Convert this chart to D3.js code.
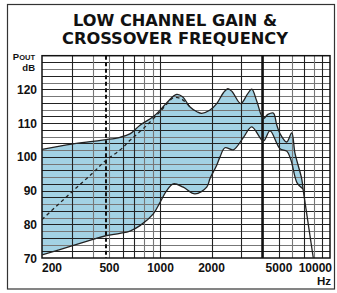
<!DOCTYPE html>
<html><head><meta charset="utf-8">
<script src="https://cdn.jsdelivr.net/npm/d3@7"></script>
<style>
html,body{margin:0;padding:0;background:#fff;}
svg{display:block;}
.lab{font-family:"Liberation Sans Narrow","Liberation Sans",Arial,sans-serif;font-weight:bold;fill:#111;}
.title{font-family:"Liberation Sans Narrow","DejaVu Sans Condensed",sans-serif;font-weight:bold;fill:#111;}
</style></head>
<body>
<script>
// ---- data ----
const titleLines = ["LOW CHANNEL GAIN &", "CROSSOVER FREQUENCY"];
const xTickValues = [200, 500, 1000, 2000, 5000, 10000];
const xTickLabels = ["200", "500", "1000", "2000", "5000", "10000"];
const yTickValues = [70, 80, 90, 100, 110, 120];
const xGridValues = [300,400,500,600,700,800,900,1000,2000,3000,5000,6000,7000,8000,9000];
const xGridMinor = [400,500,800,900,6000,8000];
const upperFreq = [200,300,400,477,577,660,757,900,994,1100,1246,1350,1494,1650,1751,1950,2146,2350,2500,2650,2974,3250,3454,3700,4043,4300,4629,4850,5071,5555,5946,6218,6811,6932];
const upperDb   = [102.2,103.8,104.6,105.1,105.8,106.8,109.4,111.8,113.8,116.3,118.5,117.8,114.8,113.3,112.9,113.8,115.8,119.0,120.2,119.3,115.8,118.5,120.1,116.5,111.4,112.6,113.0,109.5,106.9,104.4,107.1,101.0,93.5,90.5];
const lowerFreq = [200,300,400,477,577,661,757,907,994,1088,1191,1363,1598,1874,1960,2146,2245,2403,2691,3081,3454,4043,4427,5071,5555,5888,6390,6932];
const lowerDb   = [70.9,73.6,75.5,76.6,77.3,78.0,79.6,83.1,86.5,90.0,92.0,91.0,89.0,91.0,93.6,97.5,100.0,102.7,102.1,105.7,108.9,104.7,107.7,102.4,101.7,99.0,92.3,90.5];
const tailFreq = [6932, 7972];
const tailDb   = [90.5, 70];
const dashFreq = [200,300,400,477,577,661,800,994,1100,1190,1300,1400,1494];
const dashDb   = [81.4,89.6,95.3,99.0,102.0,104.9,108.6,113.4,115.9,117.5,117.4,116.3,114.7];
const crossoverFreq = 4000;
const presetFreq = 477;

// ---- layout ----
const W = 337, H = 293;
const svg = d3.select("body").append("svg").attr("width", W).attr("height", H);
const x = d3.scaleLog().domain([200, 10000]).range([42, 330]);
const y = d3.scaleLinear().domain([70, 130]).range([258, 55.7]);

// outer border
svg.append("rect").attr("x", 7.5).attr("y", 4.5).attr("width", 327).attr("height", 284.5)
  .attr("fill", "none").attr("stroke", "#333").attr("stroke-width", 1.2);

// title
titleLines.forEach((t, i) => {
  svg.append("text").attr("class", "title").attr("x", 175).attr("y", i === 0 ? 25.5 : 44)
    .attr("text-anchor", "middle").attr("font-size", 16.5)
    .attr("textLength", i === 0 ? 204 : 226).attr("lengthAdjust", "spacingAndGlyphs").text(t);
});

const toPts = (fs, ds) => fs.map((f, i) => [f, ds[i]]);
const line = d3.line().x(d => x(d[0])).y(d => y(d[1])).curve(d3.curveCatmullRom.alpha(0.5));

const upper = toPts(upperFreq, upperDb);
const lower = toPts(lowerFreq, lowerDb);

// band fill
const bandPath = line(upper) + line(lower.slice().reverse()).replace(/^M/, "L") + "Z";
svg.append("path").attr("d", bandPath).attr("fill", "#a3d2e4").attr("stroke", "none");

// grid
const g = svg.append("g");
d3.range(72, 130, 2).forEach(v => {
  g.append("line").attr("x1", x(200)).attr("x2", x(10000))
    .attr("y1", Math.round(y(v)) + 0.5).attr("y2", Math.round(y(v)) + 0.5)
    .attr("stroke", (v % 4 === 2 && v % 10 !== 0) ? "#777" : "#222").attr("stroke-width", 1);
});
xGridValues.forEach(v => {
  g.append("line").attr("y1", y(130)).attr("y2", y(70))
    .attr("x1", Math.round(x(v)) + 0.5).attr("x2", Math.round(x(v)) + 0.5)
    .attr("stroke", xGridMinor.includes(v) ? "#777" : "#222").attr("stroke-width", 1.1);
});
// crossover line
g.append("line").attr("y1", y(130)).attr("y2", y(70))
  .attr("x1", x(crossoverFreq)).attr("x2", x(crossoverFreq))
  .attr("stroke", "#111").attr("stroke-width", 2.6);
// preset dashed vertical
g.append("line").attr("y1", y(130)).attr("y2", y(70))
  .attr("x1", x(presetFreq)).attr("x2", x(presetFreq))
  .attr("stroke", "#111").attr("stroke-width", 2).attr("stroke-dasharray", "4,2.5");

// plot frame
svg.append("rect").attr("x", x(200)).attr("y", y(130)).attr("width", x(10000) - x(200)).attr("height", y(70) - y(130))
  .attr("fill", "none").attr("stroke", "#111").attr("stroke-width", 1.5);

// curves
svg.append("clipPath").attr("id", "pc").append("rect")
  .attr("x", x(200)).attr("y", y(130)).attr("width", x(10000) - x(200)).attr("height", y(70) - y(130));
const cg = svg.append("g").attr("clip-path", "url(#pc)");
cg.append("path").attr("d", line(upper)).attr("fill", "none").attr("stroke", "#222").attr("stroke-width", 1.3);
cg.append("path").attr("d", line(lower)).attr("fill", "none").attr("stroke", "#222").attr("stroke-width", 1.3);
cg.append("path").attr("d", d3.line().x(d => x(d[0])).y(d => y(d[1]))(toPts(tailFreq, tailDb)))
  .attr("fill", "none").attr("stroke", "#222").attr("stroke-width", 1.3);
cg.append("path").attr("d", line(toPts(dashFreq, dashDb))).attr("fill", "none")
  .attr("stroke", "#222").attr("stroke-width", 1.3).attr("stroke-dasharray", "3.5,3");

// y labels
yTickValues.forEach(v => {
  svg.append("text").attr("class", "lab").attr("x", 37).attr("y", y(v) + 4.5)
    .attr("text-anchor", "end").attr("font-size", 12).text(v);
});
const pout = svg.append("text").attr("class", "lab").attr("x", 35).attr("y", 60).attr("text-anchor", "end");
pout.append("tspan").attr("font-size", 9.5).text("P");
pout.append("tspan").attr("font-size", 7.5).text("OUT");
svg.append("text").attr("class", "lab").attr("x", 35).attr("y", 71).attr("text-anchor", "end")
  .attr("font-size", 9.5).text("dB");

// x labels
xTickValues.forEach((v, i) => {
  let anchor = "middle", px = x(v);
  if (i === 0) { anchor = "start"; px = x(v); }
  if (i === xTickValues.length - 1) { anchor = "end"; px = x(v) + 2; }
  svg.append("text").attr("class", "lab").attr("x", px).attr("y", 272)
    .attr("text-anchor", anchor).attr("font-size", 12).text(xTickLabels[i]);
});
svg.append("text").attr("class", "lab").attr("x", 331).attr("y", 285)
  .attr("text-anchor", "end").attr("font-size", 11.5).text("Hz");
</script>
</body></html>
